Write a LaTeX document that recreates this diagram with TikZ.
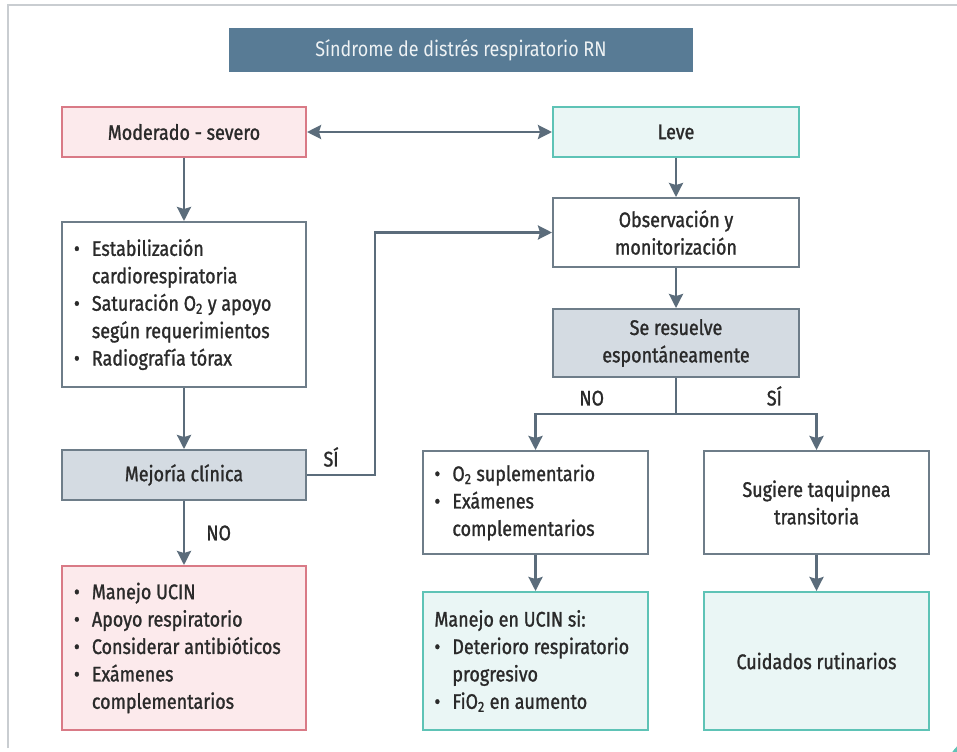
\documentclass[tikz,border=0pt]{standalone}
\usepackage{fontspec}
\setmainfont[FakeStretch=0.85,FakeBold=1.2]{Fira Sans}
\newfontfamily\titlefont[FakeStretch=0.85]{Fira Sans}
\usetikzlibrary{arrows.meta,positioning}

\definecolor{linegray}{HTML}{5B6C7B}
\definecolor{boxgray}{HTML}{6E7D89}
\definecolor{titleblue}{HTML}{587B95}
\definecolor{pinkline}{HTML}{D97A86}
\definecolor{pinkfill}{HTML}{FCEAEC}
\definecolor{tealline}{HTML}{5EC3B6}
\definecolor{tealfill}{HTML}{EAF6F5}
\definecolor{darkfill}{HTML}{D4DBE2}
\definecolor{textdark}{HTML}{2A2A2A}
\definecolor{framegray}{HTML}{C9CDD1}

\newcommand{\bul}{\makebox[0.85em][l]{\textbullet}}
\newcommand{\ind}{\hspace*{0.85em}}

\begin{document}
\begin{tikzpicture}[x=0.025cm, y=-0.025cm,
    font=\fontsize{15}{19.5}\selectfont,
    every node/.style={text=textdark},
    box/.style={draw=boxgray, line width=1.4pt, fill=white, align=center,
      inner sep=0pt},
    pinkbox/.style={box, draw=pinkline, fill=pinkfill},
    tealbox/.style={box, draw=tealline, fill=tealfill},
    darkbox/.style={box, fill=darkfill},
    arr/.style={draw=linegray, line width=1.8pt,
      -{Stealth[length=10pt,width=10pt,inset=1.5pt]}},
    lbl/.style={inner sep=1pt}]

  \useasboundingbox (0,0) rectangle (957,751);
  % frame of the page
  \draw[framegray, line width=1.2pt] (8,748) -- (8,5) -- (957,5);
  \begin{scope}
    \clip (0,0) rectangle (957,751);
    \fill[tealline] (985,775) circle (40);
  \end{scope}

  % title
  \node[fill=titleblue, minimum width=11.6cm, minimum height=1.1cm,
    font=\titlefont\fontsize{15}{19}\selectfont,
    text=white!90!titleblue] (title) at (461,50) {Síndrome de distrés respiratorio RN};

  % left column
  \node[pinkbox, minimum width=6.1cm, minimum height=1.25cm] (mod) at (184,132)
    {Moderado - severo};
  \node[box, minimum width=6.1cm, minimum height=4.125cm] (stab) at (184,304.5)
    {\begin{minipage}{5.5cm}
      \bul Estabilización\\
      \ind cardiorespiratoria\\
      \bul Saturación O\textsubscript{2} y apoyo\\
      \ind según requerimientos\\
      \bul Radiografía tórax
    \end{minipage}};
  \node[darkbox, minimum width=6.1cm, minimum height=1.25cm] (mejo) at (184,475)
    {Mejoría clínica};
  \node[pinkbox, minimum width=6.1cm, minimum height=4.1cm] (ucin) at (184,648)
    {\begin{minipage}{5.5cm}
      \bul Manejo UCIN\\
      \bul Apoyo respiratorio\\
      \bul Considerar antibióticos\\
      \bul Exámenes\\
      \ind complementarios
    \end{minipage}};

  % right column
  \node[tealbox, minimum width=6.15cm, minimum height=1.25cm] (leve) at (676,132)
    {Leve};
  \node[box, minimum width=6.15cm, minimum height=1.725cm] (obs) at (676,232.5)
    {Observación y\\monitorización};
  \node[darkbox, minimum width=6.15cm, minimum height=1.7cm] (resu) at (676,343)
    {Se resuelve\\espontáneamente};
  \coordinate[below=0.9cm of resu.south] (fork);

  \node[box, minimum width=5.625cm, minimum height=2.575cm] (oxi) at (535.5,502.5)
    {\begin{minipage}{5.05cm}
      \bul O\textsubscript{2} suplementario\\
      \bul Exámenes\\
      \ind complementarios
    \end{minipage}};
  \node[box, minimum width=5.625cm, minimum height=2.575cm] (sugi) at (816.5,502.5)
    {Sugiere taquipnea\\transitoria};
  \node[tealbox, minimum width=5.625cm, minimum height=3.45cm] (mane) at (535.5,661)
    {\begin{minipage}{5.05cm}
      Manejo en UCIN si:\\
      \bul Deterioro respiratorio\\
      \ind progresivo\\
      \bul FiO\textsubscript{2} en aumento
    \end{minipage}};
  \node[tealbox, minimum width=5.625cm, minimum height=3.45cm] (cuid) at (816.5,661)
    {Cuidados rutinarios};

  % connectors
  \draw[arr, {Stealth[length=10pt,width=10pt,inset=1.5pt]}-{Stealth[length=10pt,width=10pt,inset=1.5pt]}]
    (mod) -- (leve);
  \draw[arr] (mod) -- (stab);
  \draw[arr] (stab) -- (mejo);
  \draw[arr] (mejo) -- node[lbl, right=14pt] {NO} (ucin);
  \draw[arr] (mejo.east) -- ++(68,0) node[lbl, above left=4pt and 24pt] {SÍ} |- (obs.west);

  \draw[arr] (leve) -- (obs);
  \draw[arr] (obs) -- (resu);
  \draw[linegray, line width=1.8pt] (resu.south) -- (fork);
  \draw[arr] (fork) -| node[lbl, pos=0.3, above=4pt] {NO} (oxi.north);
  \draw[arr] (fork) -| node[lbl, pos=0.35, above=4pt] {SÍ} (sugi.north);
  \draw[arr] (oxi) -- (mane);
  \draw[arr] (sugi) -- (cuid);
\end{tikzpicture}
\end{document}
